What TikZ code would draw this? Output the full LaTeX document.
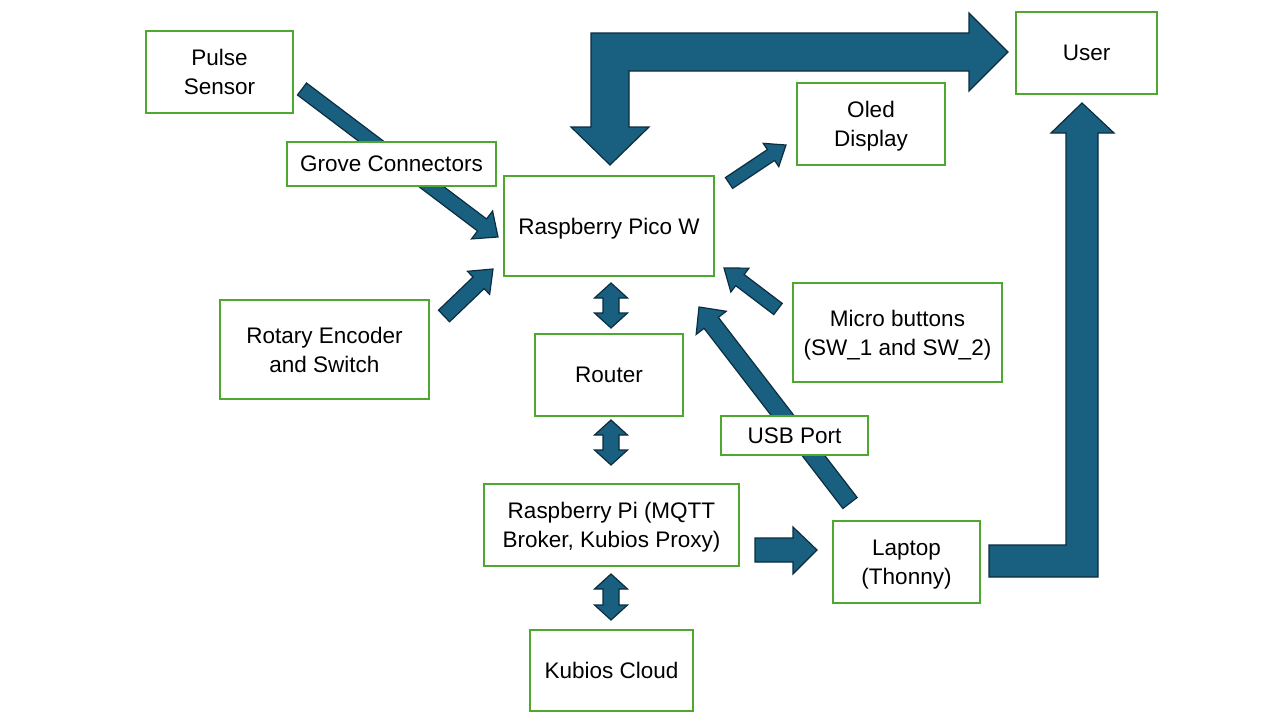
\documentclass[tikz,border=0pt]{standalone}
\usepackage{fontspec}
\setmainfont{Liberation Sans}
\usetikzlibrary{calc}
\definecolor{boxgreen}{HTML}{4EA72E}
\definecolor{arrfill}{HTML}{195F80}
\definecolor{arrline}{HTML}{0C2D3F}
\tikzset{
  box/.style={draw=boxgreen, line width=2pt, fill=white, inner sep=0pt, align=center,
    font=\fontsize{22.5}{29}\selectfont, text=black, text depth=0pt},
  blk/.style={fill=arrfill, draw=arrline, line width=1.2pt, line join=miter},
}
% single block arrow: from, to, shaft half width, head half width, head length
\newcommand\barrow[5]{%
  \coordinate (bx) at ($(#2)!#5!(#1)$);
  \filldraw[blk] ($(#1)!#3!90:(#2)$) -- ($(bx)!#3!-90:(#1)$) -- ($(bx)!#4!-90:(#1)$) -- (#2)
    -- ($(bx)!#4!90:(#1)$) -- ($(bx)!#3!90:(#1)$) -- ($(#1)!#3!-90:(#2)$) -- cycle;}
% double block arrow
\newcommand\darrow[5]{%
  \coordinate (ba) at ($(#1)!#5!(#2)$);
  \coordinate (bb) at ($(#2)!#5!(#1)$);
  \filldraw[blk] (#1) -- ($(ba)!#4!90:(#2)$) -- ($(ba)!#3!90:(#2)$) -- ($(bb)!#3!-90:(#1)$)
    -- ($(bb)!#4!-90:(#1)$) -- (#2) -- ($(bb)!#4!90:(#1)$) -- ($(bb)!#3!90:(#1)$)
    -- ($(ba)!#3!-90:(#2)$) -- ($(ba)!#4!-90:(#2)$) -- cycle;}
\begin{document}
\begin{tikzpicture}[x=1pt,y=-1pt]
\useasboundingbox[fill=white] (0,0) rectangle (1280,720);

% nodes
\node[box, minimum width=147, minimum height=82] (pulse) at (219.5,72) {Pulse\\Sensor};
\node[box, minimum width=141, minimum height=82] (user) at (1086.5,53) {User};
\node[box, minimum width=148, minimum height=82] (oled) at (871,124) {Oled\\Display};
\node[box, minimum width=210, minimum height=100] (pico) at (609,226) {Raspberry Pico W};
\node[box, minimum width=209, minimum height=99] (rotary) at (324.5,349.5) {Rotary Encoder\\and Switch};
\node[box, minimum width=209, minimum height=99] (micro) at (897.5,332.5) {Micro buttons\\(SW\_1 and SW\_2)};
\node[box, minimum width=148, minimum height=82] (router) at (609,375) {Router};
\node[box, minimum width=255, minimum height=82] (rpi) at (611.5,525) {Raspberry Pi (MQTT\\Broker, Kubios Proxy)};
\node[box, minimum width=147, minimum height=82] (laptop) at (906.5,562) {Laptop\\(Thonny)};
\node[box, minimum width=163, minimum height=81] (kubios) at (611.5,670.5) {Kubios Cloud};

% arrow end points
\coordinate (pulseA) at (302,89);   \coordinate (pulseB) at (498,237);
\coordinate (rotA) at (444,316);    \coordinate (rotB) at (493,269);
\coordinate (oledA) at (729,183);   \coordinate (oledB) at (786,145);
\coordinate (microA) at (778,309);  \coordinate (microB) at (724,268);
\coordinate (usbA) at (850,503);    \coordinate (usbB) at (699,307);
\coordinate (d1a) at (611,283);     \coordinate (d1b) at (611,328);
\coordinate (d2a) at (611,420);     \coordinate (d2b) at (611,465);
\coordinate (d3a) at (611,574);     \coordinate (d3b) at (611,620);

\barrow{pulseA}{pulseB}{7.5pt}{17.5pt}{20pt}
\barrow{rotA}{rotB}{8pt}{16pt}{20pt}
\barrow{oledA}{oledB}{6.5pt}{14pt}{18pt}
\barrow{microA}{microB}{7pt}{15pt}{20pt}
\barrow{usbA}{usbB}{9pt}{19pt}{20pt}
\darrow{d1a}{d1b}{8pt}{16.5pt}{15pt}
\darrow{d2a}{d2b}{8pt}{16.5pt}{15pt}
\darrow{d3a}{d3b}{8pt}{16.5pt}{15pt}

% Pi -> Laptop
\filldraw[blk] (755,538) -- (793,538) -- (793,527) -- (817,550) -- (793,574) -- (793,562) -- (755,562) -- cycle;
% bent arrow Pico <-> User
\filldraw[blk] (591,33) -- (969,33) -- (969,13) -- (1008,52) -- (969,91) -- (969,71) -- (629,71)
  -- (629,127) -- (649,127) -- (610,165) -- (571,127) -- (591,127) -- cycle;
% bent arrow Laptop -> User
\filldraw[blk] (989,545) -- (1066,545) -- (1066,133) -- (1051,133) -- (1082,103) -- (1114,133)
  -- (1098,133) -- (1098,577) -- (989,577) -- cycle;

% label boxes over arrows
\node[box, minimum width=209, minimum height=44] (grove) at (391.5,164) {Grove Connectors};
\node[box, minimum width=147, minimum height=39] (usb) at (794.5,435.5) {USB Port};
\end{tikzpicture}
\end{document}
